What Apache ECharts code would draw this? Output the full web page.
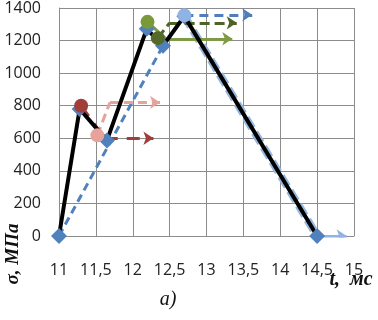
<!DOCTYPE html>
<html>
<head>
<meta charset="utf-8">
<script src="https://cdn.jsdelivr.net/npm/echarts@6/dist/echarts.min.js"></script>
<style>
  html, body { margin: 0; padding: 0; background: #fff; }
  #chart { width: 378px; height: 320px; }
</style>
</head>
<body>
<div id="chart"></div>
<script>
// time, ms / stress, MPa
const mainT = [11, 11.28, 11.65, 12.19, 12.41, 12.7, 14.5];
const mainS = [0, 780, 587, 1272, 1168, 1350, 0];
const equivT = [11, 12.41, 12.7, 14.5];
const equivS = [0, 1168, 1350, 0];
const fallT = [12.7, 14.5];
const fallS = [1350, 0];
const circleT = [11.3, 11.52, 12.2, 12.34, 12.7];
const circleS = [800, 618, 1315, 1215, 1355];
const circleColors = ['#A23E3A', '#E8A29C', '#7A9A3A', '#55692B', '#8FB4E3'];
// arrows (polyline, arrow head at the last point)
const arrowRed = [[11.3, 800], [11.62, 600], [12.28, 600]];
const arrowPink = [[11.52, 618], [11.69, 820], [12.37, 820]];
const arrowOlive = [[12.2, 1315], [12.45, 1211], [13.35, 1211]];
const arrowDarkOlive = [[12.34, 1215], [12.5, 1309], [13.41, 1309]];
const arrowBlue = [[12.7, 1358], [13.62, 1358]];
const arrowLightBlue = [[14.5, 0], [14.9, 0]];
const xTicks = [11, 11.5, 12, 12.5, 13, 13.5, 14, 14.5, 15];

const zip = (a, b) => a.map((v, i) => [v, b[i]]);

// path part as a plain line, last segment as 'lines' with an arrow
function arrow(coords, color, type) {
    let out = [];
    if (coords.length > 2) {
        out.push({
            type: 'line',
            data: coords.slice(0, -1),
            symbol: 'none',
            silent: true,
            z: 3,
            lineStyle: { color: color, width: 3, type: type }
        });
    }
    out.push({
        type: 'lines',
        coordinateSystem: 'cartesian2d',
        silent: true,
        z: 3,
        symbol: ['none', 'arrow'],
        symbolSize: [0, 10],
        lineStyle: { color: color, width: 3, type: type, opacity: 1 },
        data: [{ coords: coords.slice(-2) }]
    });
    return out;
}

let myChart = echarts.init(document.getElementById('chart'));
const grey = '#8c8c8c';
const font = '"Open Sans", "Liberation Sans", sans-serif';

myChart.setOption({
    animation: false,
    grid: { left: 59, right: 24, top: 7, bottom: 84 },
    xAxis: {
        type: 'value',
        min: 11, max: 15, interval: 0.5,
        axisLine: { show: true, lineStyle: { color: grey } },
        axisTick: { show: false },
        splitLine: { show: true, lineStyle: { color: grey, width: 1 } },
        axisLabel: {
            margin: 26, color: '#222', fontSize: 16, fontFamily: font,
            formatter: v => xTicks.indexOf(v) >= 0 ? String(v).replace('.', ',') : ''
        }
    },
    yAxis: {
        type: 'value',
        min: 0, max: 1400, interval: 200,
        axisLine: { show: true, lineStyle: { color: grey } },
        axisTick: { show: false },
        splitLine: { show: true, lineStyle: { color: grey, width: 1 } },
        axisLabel: { margin: 18, color: '#222', fontSize: 16, fontFamily: font, formatter: v => String(v) }
    },
    graphic: [
        {
            type: 'text', x: 13, y: 254, rotation: Math.PI / 2,
            style: {
                text: 'σ, МПа', fill: '#111', align: 'center', verticalAlign: 'middle',
                font: 'italic bold 19px "Liberation Serif", "DejaVu Serif", serif'
            }
        },
        {
            type: 'text', x: 351, y: 280,
            style: {
                text: 't,  мс', fill: '#111', align: 'center', verticalAlign: 'middle',
                font: 'italic bold 20px "Liberation Serif", "DejaVu Serif", serif'
            }
        },
        {
            type: 'text', x: 168, y: 300,
            style: {
                text: 'а)', fill: '#111', align: 'center', verticalAlign: 'middle',
                font: 'italic 20px "Liberation Serif", "DejaVu Serif", serif'
            }
        }
    ],
    series: [
        {
            type: 'line',
            data: zip(equivT, equivS),
            symbol: 'none',
            z: 2,
            lineStyle: { color: '#4F81BD', width: 3, type: [8, 5] }
        },
        {
            type: 'line',
            data: zip(fallT, fallS),
            symbol: 'none',
            z: 2,
            lineStyle: { color: '#95B7E0', width: 8, type: [12, 5] }
        },
        ...arrow(arrowLightBlue, '#8FB4E3', 'solid'),
        ...arrow(arrowBlue, '#4F7EBB', [9, 6]),
        ...arrow(arrowPink, '#E8A29C', [9, 5]),
        ...arrow(arrowRed, '#A23E3A', [13, 9]),
        ...arrow(arrowDarkOlive, '#4F6228', [10, 5]),
        ...arrow(arrowOlive, '#7F9A45', 'solid'),
        {
            type: 'line',
            data: zip(mainT, mainS),
            symbol: 'diamond',
            symbolSize: 16,
            z: 4,
            itemStyle: { color: '#4F81BD', opacity: 1 },
            lineStyle: { color: '#000', width: 4 }
        },
        {
            type: 'scatter',
            z: 5,
            symbolSize: 14,
            data: circleT.map((t, i) => ({
                value: [t, circleS[i]],
                itemStyle: { color: circleColors[i], opacity: 1 }
            }))
        }
    ]
});
</script>
</body>
</html>
